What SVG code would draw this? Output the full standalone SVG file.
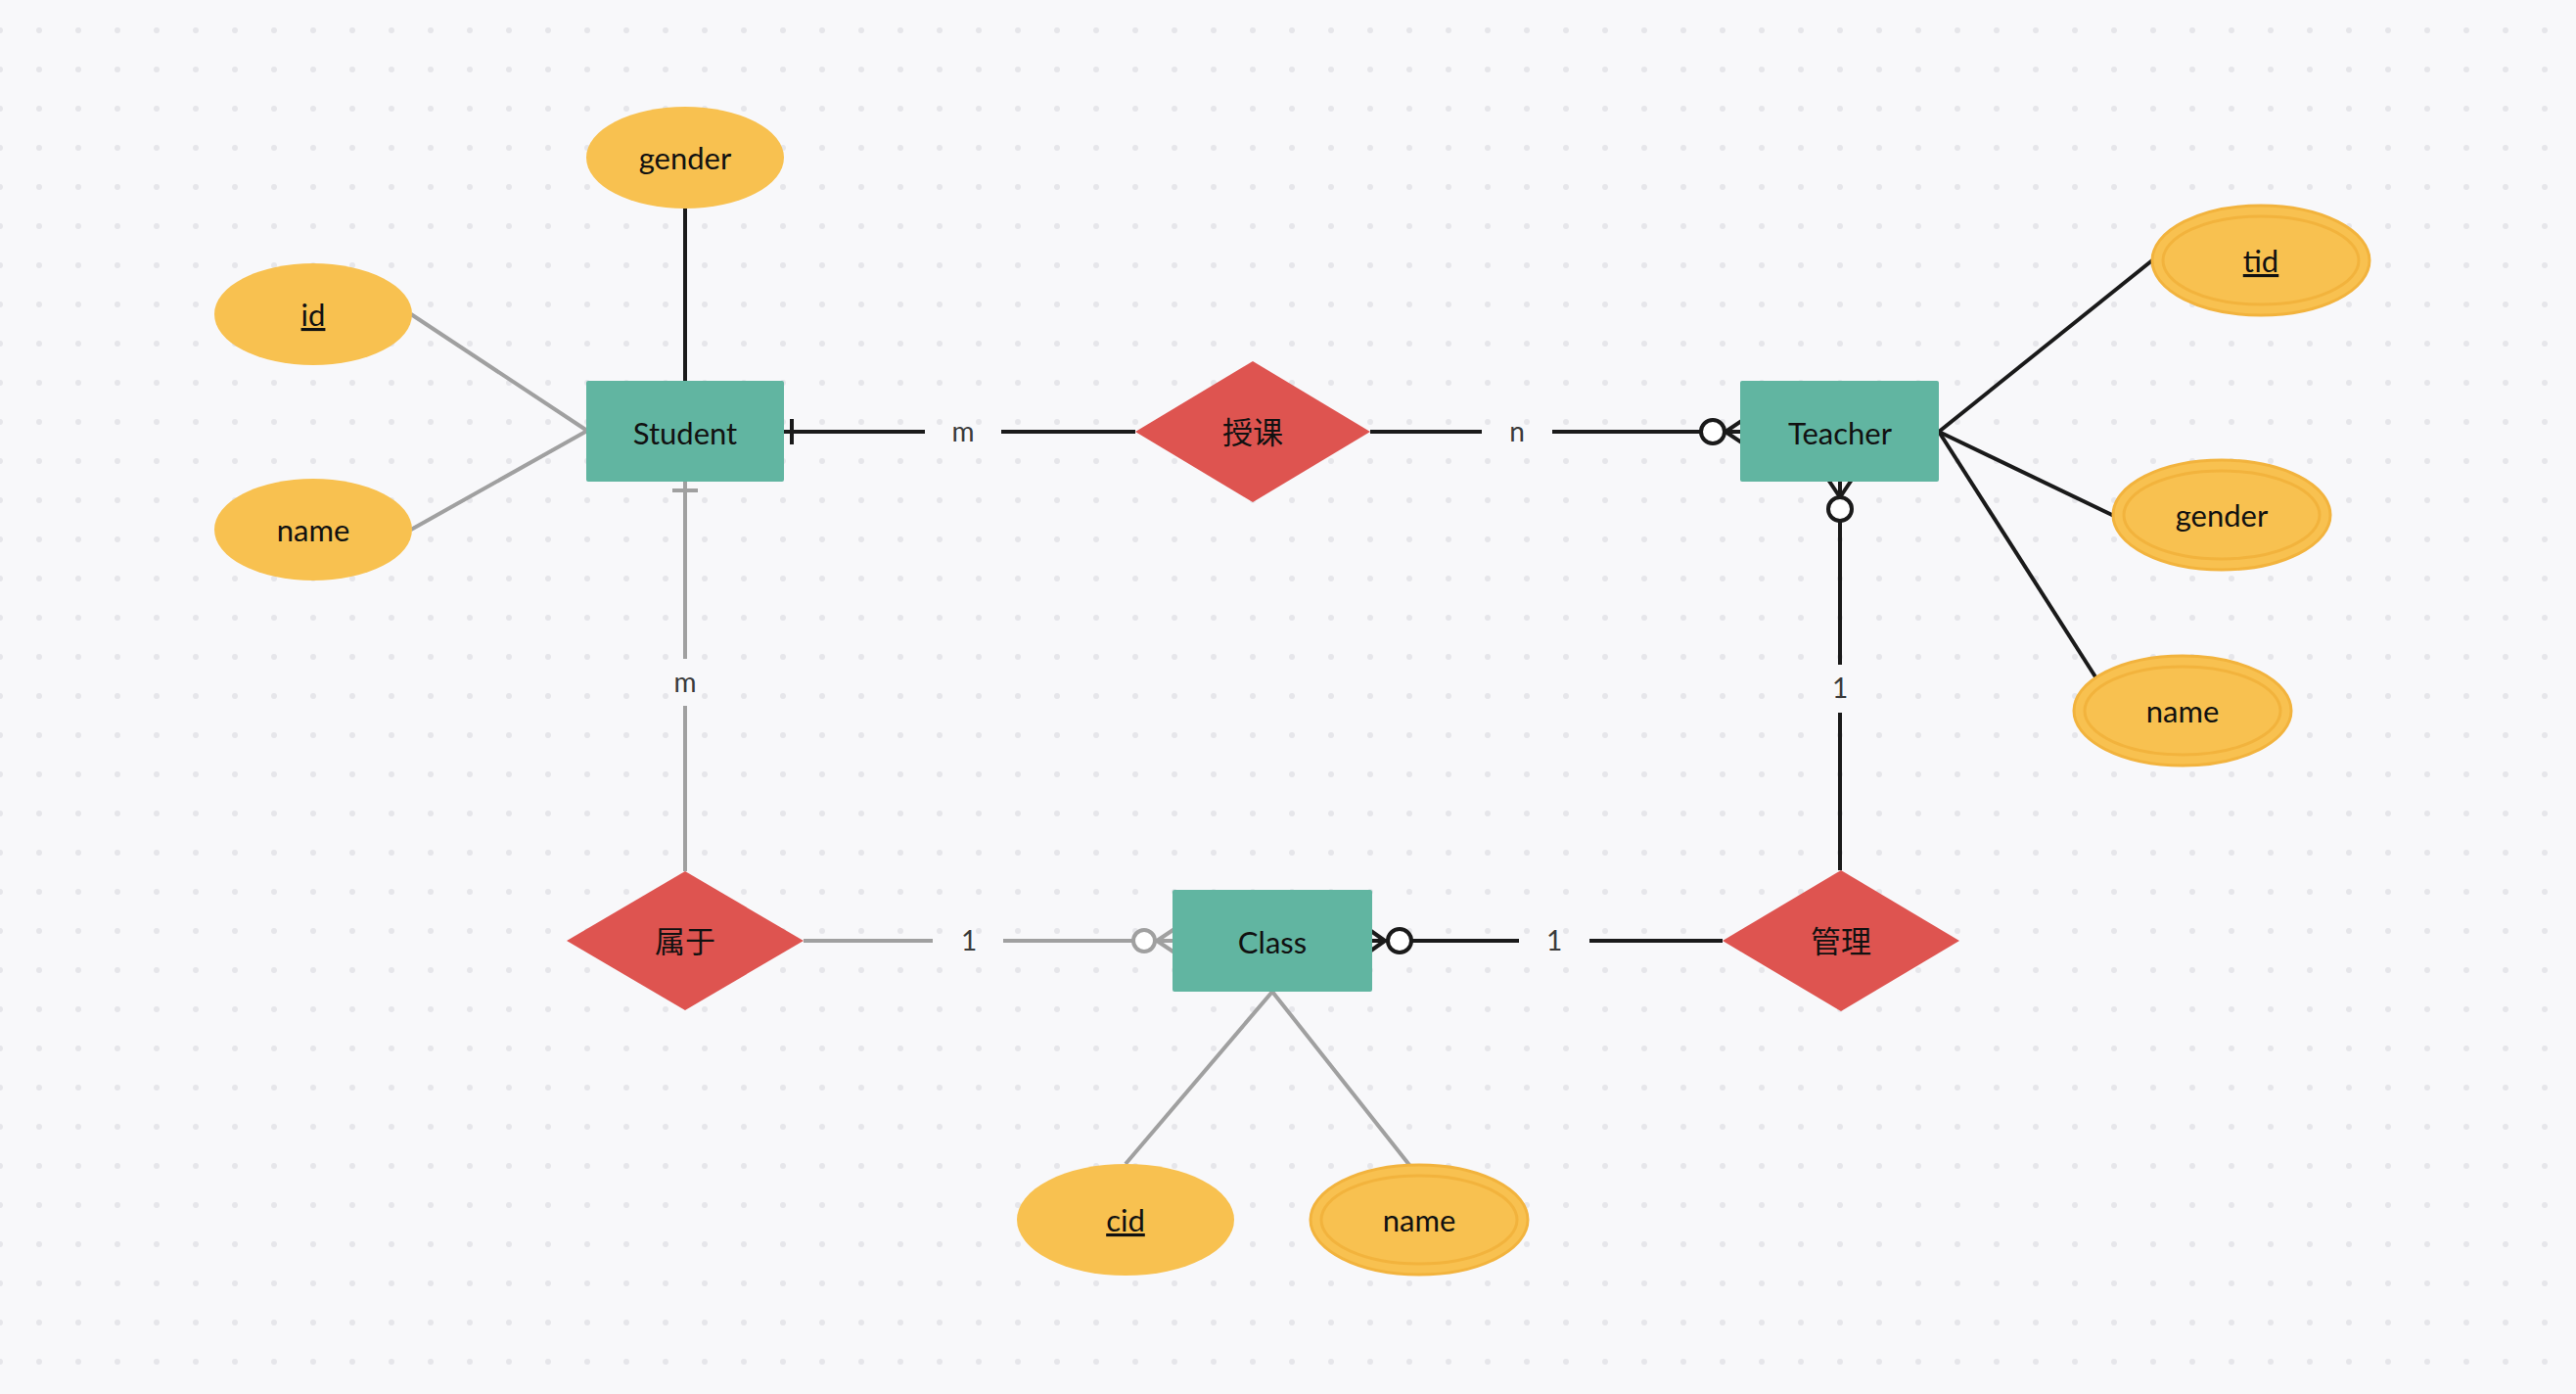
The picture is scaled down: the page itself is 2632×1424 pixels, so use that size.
<svg xmlns="http://www.w3.org/2000/svg" width="2632" height="1424" viewBox="0 0 2632 1424">
<style>
.entity rect{fill:#61B5A1;}
.rel polygon{fill:#DE5450;}
.attr ellipse{fill:#F8C150;}
.attr.multi ellipse.outer{stroke:#F2B33D;stroke-width:3;}
.attr.multi ellipse.inner{fill:none;stroke:#F2B33D;stroke-width:3;}
text{font-family:Lato,"Noto Sans CJK SC","Liberation Sans",sans-serif;font-size:31px;fill:#111;text-anchor:middle;}
.key{text-decoration:underline;}
.lbl{font-size:28px;fill:#3a3a3a;}
.k{stroke:#1a1a1a;stroke-width:4;fill:none;stroke-linecap:butt;}
.g{stroke:#A0A0A0;stroke-width:4;fill:none;}
.kc{stroke:#1a1a1a;stroke-width:4;fill:#fff;}
.gc{stroke:#A0A0A0;stroke-width:4;fill:#fff;}
</style>
<defs>
<pattern id="dots" patternUnits="userSpaceOnUse" x="-20" y="11" width="40" height="40">
<circle cx="20" cy="20" r="3" fill="#E6E6EA"/>
</pattern>
</defs>
<rect x="0" y="0" width="2632" height="1424" fill="#F8F8FA"/>
<rect x="0" y="0" width="2632" height="1424" fill="url(#dots)"/>

<g id="connectors">
<!-- Student attributes -->
<line class="k" x1="700" y1="213" x2="700" y2="389"/>
<line class="g" x1="420" y1="321" x2="600" y2="440"/>
<line class="g" x1="420" y1="541" x2="600" y2="440"/>
<!-- Student - 授课 -->
<line class="k" x1="801" y1="441" x2="945" y2="441"/>
<line class="k" x1="809" y1="428" x2="809" y2="454"/>
<line class="k" x1="1023" y1="441" x2="1160" y2="441"/>
<text class="lbl" x="984" y="451">m</text>
<!-- 授课 - Teacher -->
<line class="k" x1="1400" y1="441" x2="1514" y2="441"/>
<text class="lbl" x="1550" y="451">n</text>
<line class="k" x1="1586" y1="441" x2="1738" y2="441"/>
<path class="k" d="M1762 441 L1781 441 M1763 441 L1781 429 M1763 441 L1781 453"/>
<circle class="kc" cx="1750" cy="441" r="12"/>
<!-- Teacher attributes -->
<line class="k" x1="1981" y1="441" x2="2199" y2="266"/>
<line class="k" x1="1981" y1="441" x2="2160" y2="527"/>
<line class="k" x1="1981" y1="441" x2="2142" y2="693"/>
<!-- Teacher - 管理 -->
<path class="k" d="M1880 508 L1880 490 M1880 508 L1868 490 M1880 508 L1892 490"/>
<circle class="kc" cx="1880" cy="520" r="12"/>
<line class="k" x1="1880" y1="532" x2="1880" y2="679"/>
<text class="lbl" x="1880" y="713">1</text>
<line class="k" x1="1880" y1="728" x2="1880" y2="889"/>
<!-- 管理 - Class -->
<line class="k" x1="1760" y1="961" x2="1624" y2="961"/>
<text class="lbl" x="1588" y="971">1</text>
<line class="k" x1="1552" y1="961" x2="1442" y2="961"/>
<path class="k" d="M1418 961 L1398 961 M1415 961 L1398 949 M1415 961 L1398 973"/>
<circle class="kc" cx="1430" cy="961" r="12"/>
<!-- Student - 属于 -->
<line class="g" x1="700" y1="492" x2="700" y2="673"/>
<line class="g" x1="687" y1="501" x2="713" y2="501"/>
<text class="lbl" x="700" y="707">m</text>
<line class="g" x1="700" y1="721" x2="700" y2="890"/>
<!-- 属于 - Class -->
<line class="g" x1="821" y1="961" x2="953" y2="961"/>
<text class="lbl" x="990" y="971">1</text>
<line class="g" x1="1025" y1="961" x2="1157" y2="961"/>
<path class="g" d="M1181 961 L1200 961 M1182 961 L1200 949 M1182 961 L1200 973"/>
<circle class="gc" cx="1169" cy="961" r="11"/>
<!-- Class attributes -->
<line class="g" x1="1300" y1="1013" x2="1150" y2="1189"/>
<line class="g" x1="1300" y1="1013" x2="1440" y2="1190"/>
</g>

<g id="student" class="entity"><rect x="599" y="389" width="202" height="103" rx="2"/><text x="700" y="454">Student</text></g>
<g id="teacher" class="entity"><rect x="1778" y="389" width="203" height="103" rx="2"/><text x="1880" y="454">Teacher</text></g>
<g id="class" class="entity"><rect x="1198" y="909" width="204" height="104" rx="2"/><text x="1300" y="974">Class</text></g>

<g id="shouke" class="rel"><polygon points="1160,441 1280,369 1400,441 1280,513"/><text x="1280" y="453">授课</text></g>
<g id="shuyu" class="rel"><polygon points="579,961 700,890 821,961 700,1032"/><text x="700" y="973">属于</text></g>
<g id="guanli" class="rel"><polygon points="1760,961 1881,889 2002,961 1881,1033"/><text x="1881" y="973">管理</text></g>

<g id="s-gender" class="attr"><ellipse cx="700" cy="161" rx="101" ry="52"/><text x="700" y="173">gender</text></g>
<g id="s-id" class="attr"><ellipse cx="320" cy="321" rx="101" ry="52"/><text class="key" x="320" y="333">id</text></g>
<g id="s-name" class="attr"><ellipse cx="320" cy="541" rx="101" ry="52"/><text x="320" y="553">name</text></g>

<g id="t-tid" class="attr multi"><ellipse class="outer" cx="2310" cy="266" rx="111" ry="56"/><ellipse class="inner" cx="2310" cy="266" rx="100" ry="45"/><text class="key" x="2310" y="278">tid</text></g>
<g id="t-gender" class="attr multi"><ellipse class="outer" cx="2270" cy="526" rx="111" ry="56"/><ellipse class="inner" cx="2270" cy="526" rx="100" ry="45"/><text x="2270" y="538">gender</text></g>
<g id="t-name" class="attr multi"><ellipse class="outer" cx="2230" cy="726" rx="111" ry="56"/><ellipse class="inner" cx="2230" cy="726" rx="100" ry="45"/><text x="2230" y="738">name</text></g>

<g id="c-cid" class="attr"><ellipse cx="1150" cy="1246" rx="111" ry="57"/><text class="key" x="1150" y="1258">cid</text></g>
<g id="c-name" class="attr multi"><ellipse class="outer" cx="1450" cy="1246" rx="111" ry="56"/><ellipse class="inner" cx="1450" cy="1246" rx="100" ry="45"/><text x="1450" y="1258">name</text></g>
</svg>
